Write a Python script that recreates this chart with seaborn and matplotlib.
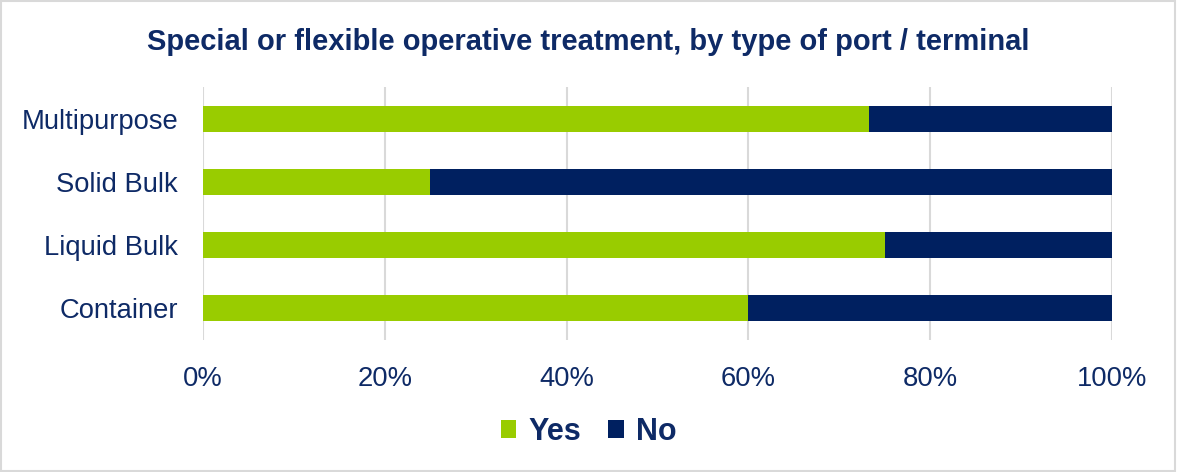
import matplotlib
matplotlib.use("Agg")
import matplotlib.pyplot as plt
import seaborn as sns
import pandas as pd
from matplotlib.patches import Rectangle

categories = ["Multipurpose", "Solid Bulk", "Liquid Bulk", "Container"]
yes_pct = [73.3, 25.0, 75.0, 60.0]
no_pct = [26.7, 75.0, 25.0, 40.0]
x_ticks = [0, 20, 40, 60, 80, 100]
x_tick_labels = ["0%", "20%", "40%", "60%", "80%", "100%"]

GREEN = "#99CC00"
NAVY = "#002060"
TEXT = "#0E2A66"
GRID = "#D9D9D9"

sns.set_theme(style="white")
plt.rcParams["font.family"] = ["Liberation Sans", "DejaVu Sans"]

df = pd.DataFrame({"category": categories, "yes": yes_pct, "no": no_pct})
df["total"] = df["yes"] + df["no"]

fig = plt.figure(figsize=(11.77, 4.72), dpi=100)
ax = fig.add_axes([0.1725, 0.2797, 0.7723, 0.536])

# stacked bars: full-length "No" underneath, "Yes" drawn over it
sns.barplot(data=df, y="category", x="total", color=NAVY, orient="h",
            width=0.41, ax=ax, label="No", saturation=1, zorder=2,
            linewidth=0, edgecolor="none", legend=False)
sns.barplot(data=df, y="category", x="yes", color=GREEN, orient="h",
            width=0.41, ax=ax, label="Yes", saturation=1, zorder=3,
            linewidth=0, edgecolor="none", legend=False)
if ax.get_legend() is not None:
    ax.get_legend().remove()

ax.set_xlim(0, 100)
ax.set_ylim(3.5, -0.5)
ax.set_xticks(x_ticks)
ax.set_xticklabels(x_tick_labels)
ax.set_xlabel("")
ax.set_ylabel("")
for s in ax.spines.values():
    s.set_visible(False)
ax.grid(axis="x", color=GRID, linewidth=1.5, zorder=0)
ax.set_axisbelow(True)
ax.tick_params(axis="both", length=0, labelsize=19.7, colors=TEXT)
ax.tick_params(axis="x", pad=19)
ax.tick_params(axis="y", pad=18)

fig.text(0.5, 0.912, "Special or flexible operative treatment, by type of port / terminal",
         ha="center", va="center", fontsize=21, fontweight="bold", color=TEXT)

handles, labels = ax.get_legend_handles_labels()
order = [labels.index("Yes"), labels.index("No")]
leg = fig.legend([handles[i] for i in order], [labels[i] for i in order],
                 loc="center", bbox_to_anchor=(0.5, 0.085), ncol=2, frameon=False,
                 prop={"weight": "bold", "size": 22}, handlelength=0.5, handleheight=0.5,
                 handletextpad=0.4, columnspacing=0.9)
for t in leg.get_texts():
    t.set_color(TEXT)

fig.patches.append(Rectangle((0.001, 0.002), 0.997, 0.995, transform=fig.transFigure,
                             fill=False, edgecolor=GRID, linewidth=1.5))

fig.savefig("out.png", dpi=100)
